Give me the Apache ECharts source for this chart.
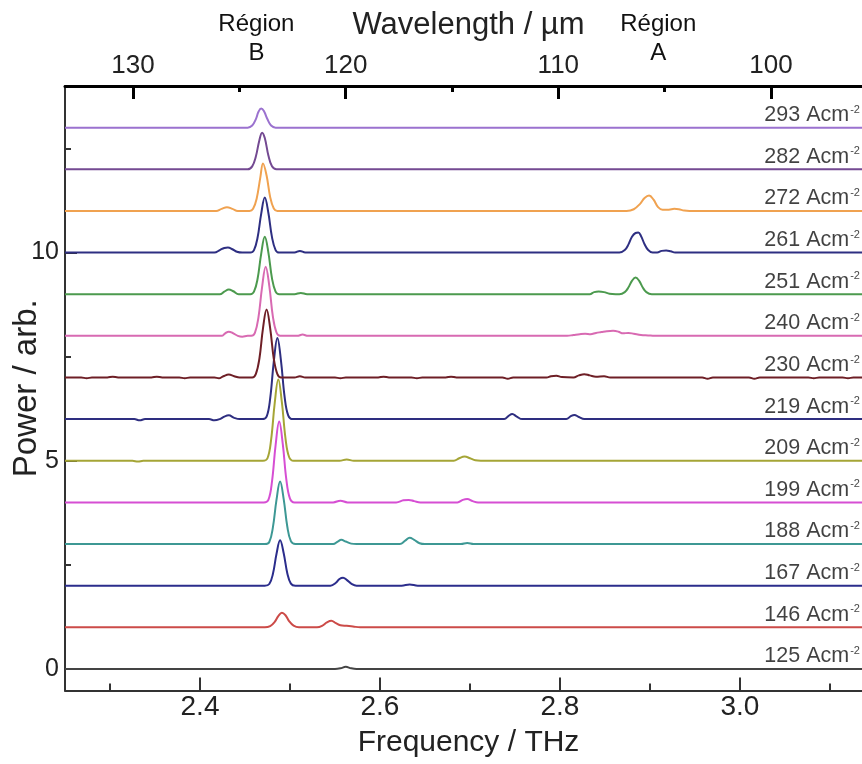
<!DOCTYPE html>
<html>
<head>
<meta charset="utf-8">
<script src="https://cdn.jsdelivr.net/npm/echarts@6/dist/echarts.min.js"></script>
<style>
html,body{margin:0;padding:0;background:#fff;}
#chart{width:862px;height:764px;}
</style>
</head>
<body>
<div id="chart"></div>
<script>
// ---- data ----
const currents = [125, 146, 167, 188, 199, 209, 219, 230, 240, 251, 261, 272, 282, 293];
const offsets  = [0, 1, 2, 3, 4, 5, 6, 7, 8, 9, 10, 11, 12, 13];

const freqMajor = [2.4, 2.6, 2.8, 3.0];
const freqMinor = [2.3, 2.5, 2.7, 2.9, 3.1];
const lamMajor  = [130, 120, 110, 100];
const lamMinor  = [125, 115, 105];
const powMajor  = [0, 5, 10];
const powMinor  = [2.5, 7.5, 12.5];

const regionNames = ['Région\nB', 'Région\nA'];
const regionLam   = [124.2, 105.3];

// spectra: [frequency THz, power above its own baseline]
const spec125 = [[2.25,0],[2.55,0],[2.556,0.015],[2.562,0.05],[2.568,0.015],[2.574,0],[3.14,0]];
const spec146 = [[2.25,0],[2.472,0],[2.478,0.03],[2.483,0.13],[2.487,0.27],[2.491,0.35],[2.495,0.29],[2.499,0.15],[2.504,0.04],[2.51,0],[2.53,0],[2.536,0.04],[2.541,0.12],[2.546,0.16],[2.551,0.1],[2.556,0.05],[2.563,0.035],[2.57,0.02],[2.578,0],[3.14,0]];
const spec167 = [[2.25,0],[2.472,0],[2.477,0.04],[2.481,0.28],[2.485,0.76],[2.489,1.09],[2.493,0.78],[2.497,0.3],[2.501,0.05],[2.506,0],[2.545,0],[2.551,0.07],[2.555,0.16],[2.559,0.19],[2.563,0.14],[2.568,0.05],[2.574,0],[2.624,0],[2.633,0.03],[2.642,0],[3.14,0]];
const spec188 = [[2.25,0],[2.472,0],[2.477,0.05],[2.481,0.4],[2.485,1.06],[2.489,1.5],[2.493,1.08],[2.497,0.42],[2.501,0.07],[2.506,0],[2.548,0],[2.553,0.06],[2.557,0.1],[2.562,0.06],[2.568,0.01],[2.574,0],[2.622,0],[2.628,0.08],[2.633,0.15],[2.638,0.1],[2.644,0.02],[2.65,0],[2.69,0],[2.697,0.025],[2.704,0],[3.14,0]];
const spec199 = [[2.25,0],[2.471,0],[2.476,0.06],[2.48,0.5],[2.484,1.37],[2.488,1.94],[2.492,1.4],[2.496,0.54],[2.5,0.09],[2.505,0],[2.548,0],[2.556,0.04],[2.564,0],[2.618,0],[2.626,0.05],[2.632,0.06],[2.638,0.03],[2.645,0],[2.686,0],[2.692,0.06],[2.697,0.08],[2.703,0.03],[2.709,0],[3.14,0]];
const spec209 = [[2.25,0],[2.325,0],[2.331,-0.02],[2.337,0],[2.47,0],[2.475,0.06],[2.479,0.5],[2.483,1.38],[2.487,1.95],[2.491,1.4],[2.495,0.54],[2.499,0.09],[2.504,0],[2.555,0],[2.563,0.03],[2.571,0],[2.682,0],[2.688,0.06],[2.694,0.1],[2.7,0.06],[2.706,0.01],[2.712,0],[3.14,0]];
const spec219 = [[2.25,0],[2.327,0],[2.333,-0.03],[2.339,0],[2.41,0],[2.416,-0.03],[2.422,0],[2.427,0.06],[2.432,0.09],[2.438,0.03],[2.444,0],[2.469,0],[2.474,0.06],[2.478,0.5],[2.482,1.38],[2.486,1.95],[2.49,1.4],[2.494,0.54],[2.498,0.09],[2.503,0],[2.738,0],[2.743,0.08],[2.747,0.12],[2.752,0.06],[2.758,0],[2.807,0],[2.812,0.07],[2.816,0.1],[2.821,0.05],[2.827,0],[3.14,0]];
const spec230 = [[2.25,0],[2.268,0],[2.274,-0.02],[2.28,0],[2.297,0],[2.303,0.02],[2.309,0],[2.346,0],[2.352,0.02],[2.358,0],[2.377,0],[2.383,-0.02],[2.389,0],[2.416,0],[2.421,-0.02],[2.426,0.03],[2.432,0.07],[2.438,0.03],[2.444,0],[2.458,0],[2.462,0.08],[2.466,0.45],[2.47,1.18],[2.474,1.63],[2.478,1.18],[2.482,0.45],[2.486,0.08],[2.49,0],[2.505,0],[2.511,0.03],[2.517,0],[2.55,0],[2.556,-0.02],[2.562,0],[2.598,0],[2.604,0.02],[2.61,0],[2.635,0],[2.641,-0.02],[2.647,0],[2.673,0],[2.679,0.02],[2.685,0],[2.736,0],[2.742,-0.03],[2.748,0],[2.785,0],[2.79,0.03],[2.796,0.04],[2.802,0.01],[2.815,0],[2.821,0.05],[2.827,0.08],[2.833,0.05],[2.84,0.02],[2.849,0.03],[2.856,0],[2.958,0],[2.964,-0.03],[2.97,0],[3.01,0],[3.016,-0.03],[3.022,0],[3.076,0],[3.082,-0.02],[3.088,0],[3.114,0],[3.12,-0.02],[3.126,0],[3.14,0]];
const spec240 = [[2.25,0],[2.424,0],[2.428,0.06],[2.432,0.1],[2.437,0.06],[2.442,0],[2.447,-0.02],[2.453,0],[2.457,0],[2.461,0.07],[2.465,0.45],[2.469,1.17],[2.473,1.66],[2.477,1.2],[2.481,0.46],[2.485,0.08],[2.489,0],[2.508,0],[2.514,0.03],[2.52,0],[2.808,0],[2.815,0.02],[2.822,0.04],[2.828,0.05],[2.834,0.04],[2.84,0.07],[2.846,0.09],[2.852,0.11],[2.859,0.12],[2.865,0.1],[2.87,0.06],[2.876,0.07],[2.882,0.05],[2.89,0.02],[2.898,0.01],[2.905,0],[3.14,0]];
const spec251 = [[2.25,0],[2.422,0],[2.427,0.06],[2.432,0.11],[2.437,0.07],[2.443,0],[2.456,0],[2.46,0.06],[2.464,0.37],[2.468,0.97],[2.472,1.38],[2.476,1.0],[2.48,0.38],[2.484,0.06],[2.488,0],[2.505,0],[2.512,0.03],[2.519,0],[2.833,0],[2.838,0.05],[2.843,0.065],[2.849,0.05],[2.855,0.01],[2.862,0],[2.866,0],[2.872,0.05],[2.876,0.16],[2.88,0.32],[2.884,0.4],[2.888,0.32],[2.892,0.16],[2.896,0.05],[2.902,0],[3.14,0]];
const spec261 = [[2.25,0],[2.416,0],[2.422,0.06],[2.427,0.11],[2.431,0.12],[2.436,0.08],[2.441,0.02],[2.447,0],[2.456,0],[2.46,0.06],[2.464,0.36],[2.468,0.93],[2.472,1.32],[2.476,0.95],[2.48,0.37],[2.484,0.06],[2.488,0],[2.505,0],[2.511,0.04],[2.517,0],[2.866,0],[2.872,0.06],[2.876,0.19],[2.88,0.38],[2.884,0.47],[2.887,0.48],[2.89,0.4],[2.894,0.2],[2.898,0.06],[2.903,0],[2.908,0],[2.913,0.04],[2.918,0.05],[2.923,0.03],[2.928,0],[3.14,0]];
const spec272 = [[2.25,0],[2.418,0],[2.424,0.05],[2.43,0.09],[2.436,0.05],[2.442,0],[2.455,0],[2.459,0.05],[2.463,0.3],[2.467,0.8],[2.47,1.14],[2.474,0.85],[2.478,0.33],[2.482,0.06],[2.486,0],[2.874,0],[2.882,0.04],[2.889,0.17],[2.894,0.31],[2.899,0.37],[2.904,0.27],[2.909,0.09],[2.914,0.03],[2.921,0.03],[2.927,0.05],[2.932,0.04],[2.938,0.01],[2.944,0],[3.14,0]];
const spec282 = [[2.25,0],[2.453,0],[2.458,0.07],[2.462,0.3],[2.466,0.7],[2.469,0.88],[2.472,0.75],[2.476,0.33],[2.48,0.07],[2.485,0],[3.14,0]];
const spec293 = [[2.25,0],[2.453,0],[2.458,0.05],[2.462,0.2],[2.465,0.38],[2.468,0.46],[2.471,0.4],[2.475,0.2],[2.479,0.05],[2.484,0],[3.14,0]];

const spectra = [spec125, spec146, spec167, spec188, spec199, spec209, spec219, spec230, spec240, spec251, spec261, spec272, spec282, spec293];

// ---- styles ----
const colors = ['#444444', '#cc4b48', '#2b2d8c', '#3d9894', '#d64fd3', '#a5a536', '#2e2e80', '#6e1f26',
                '#d86ab2', '#4c9a4e', '#2e2f82', '#f0a250', '#744a92', '#9b72cf'];
const FONT = 'Liberation Sans, Arial, sans-serif';
const fMin = 2.25, fMax = 3.1356;
const lamLeft = 133.2, lamRight = 95.72;
const pMin = -0.52, pMax = 14;
const labelF = 3.1333;

const chart = echarts.init(document.getElementById('chart'), null, {renderer: 'canvas'});

const gridRect = {left: 65, top: 86, width: 797, height: 604.6};

const lineSeries = spectra.map((s, i) => ({
  type: 'line',
  xAxisIndex: 0, yAxisIndex: 0,
  data: s.map(p => [p[0], p[1] + offsets[i]]),
  smooth: 0.4,
  showSymbol: false,
  symbol: 'none',
  clip: true,
  lineStyle: {color: colors[i], width: 2},
  silent: true,
  z: 2
}));

const labelSeries = {
  type: 'scatter',
  xAxisIndex: 0, yAxisIndex: 0,
  symbolSize: 1,
  itemStyle: {color: 'transparent'},
  silent: true,
  z: 5,
  data: currents.map((c, i) => [labelF, offsets[i], c]),
  label: {
    show: true,
    position: 'top',
    align: 'right',
    distance: 1,
    formatter: p => '{a|' + p.value[2] + ' Acm}{s|-2}',
    rich: {
      a: {fontSize: 21.5, fontFamily: FONT, color: '#111', lineHeight: 22, padding: [6, 0, 0, 0], verticalAlign: 'bottom'},
      s: {fontSize: 11, fontFamily: FONT, color: '#111', lineHeight: 12, verticalAlign: 'top', padding: [0, 0, 0, 1]}
    }
  }
};

const option = {
  animation: false,
  backgroundColor: '#fff',
  grid: [
    Object.assign({containLabel: false, outerBoundsMode: 'none'}, gridRect),
    Object.assign({containLabel: false, outerBoundsMode: 'none'}, gridRect)
  ],
  xAxis: [
    { // bottom frequency, major
      type: 'value', gridIndex: 0, position: 'bottom', min: fMin, max: fMax,
      axisLine: {show: true, onZero: false, lineStyle: {color: '#333', width: 2}},
      axisTick: {show: true, inside: true, length: 13, customValues: freqMajor, lineStyle: {color: '#333', width: 2}},
      axisLabel: {show: true, customValues: freqMajor, formatter: v => v.toFixed(1), fontSize: 28, fontFamily: FONT, color: '#222', margin: 3},
      splitLine: {show: false},
      name: 'Frequency / THz', nameLocation: 'middle', nameGap: 37, nameMoveOverlap: false,
      nameTextStyle: {fontSize: 30, fontFamily: FONT, color: '#222', padding: [0, 0, 0, 10]}
    },
    { // top wavelength, major
      type: 'value', gridIndex: 0, position: 'top', inverse: true, min: lamRight, max: lamLeft,
      axisLine: {show: true, onZero: false, lineStyle: {color: '#000', width: 3}},
      axisTick: {show: true, inside: true, length: 13, customValues: lamMajor, lineStyle: {color: '#000', width: 3}},
      axisLabel: {show: true, customValues: lamMajor, fontSize: 26, fontFamily: FONT, color: '#222', margin: 7},
      splitLine: {show: false},
      name: 'Wavelength / µm', nameLocation: 'middle', nameGap: 45, nameMoveOverlap: false,
      nameTextStyle: {fontSize: 31, fontFamily: FONT, color: '#222', padding: [0, 0, 0, 10]}
    },
    { // bottom frequency, minor ticks
      type: 'value', gridIndex: 1, position: 'bottom', min: fMin, max: fMax,
      axisLine: {show: false, onZero: false},
      axisTick: {show: true, inside: true, length: 7, customValues: freqMinor, lineStyle: {color: '#333', width: 2}},
      axisLabel: {show: false}, splitLine: {show: false}
    },
    { // top wavelength, minor ticks
      type: 'value', gridIndex: 1, position: 'top', inverse: true, min: lamRight, max: lamLeft,
      axisLine: {show: false, onZero: false},
      axisTick: {show: true, inside: true, length: 6, customValues: lamMinor, lineStyle: {color: '#000', width: 3}},
      axisLabel: {show: false}, splitLine: {show: false}
    }
  ],
  yAxis: [
    {
      type: 'value', gridIndex: 0, position: 'left', min: pMin, max: pMax,
      axisLine: {show: true, onZero: false, lineStyle: {color: '#333', width: 2}},
      axisTick: {show: true, inside: true, length: 12, customValues: powMajor, lineStyle: {color: '#333', width: 2}},
      axisLabel: {show: true, customValues: powMajor, fontSize: 25, fontFamily: FONT, color: '#222', margin: 6},
      splitLine: {show: false},
      name: 'Power / arb.', nameLocation: 'middle', nameGap: 22, nameRotate: 90, nameMoveOverlap: false,
      nameTextStyle: {fontSize: 33, fontFamily: FONT, color: '#222'}
    },
    {
      type: 'value', gridIndex: 1, position: 'left', min: pMin, max: pMax,
      axisLine: {show: false, onZero: false},
      axisTick: {show: true, inside: true, length: 6, customValues: powMinor, lineStyle: {color: '#333', width: 2}},
      axisLabel: {show: false}, splitLine: {show: false}
    }
  ],
  series: lineSeries.concat([labelSeries])
};

chart.setOption(option);

// region annotations placed via the wavelength axis
const graphics = regionNames.map((t, i) => ({
  type: 'text',
  x: chart.convertToPixel({xAxisIndex: 1}, regionLam[i]),
  y: 38.5,
  silent: true,
  style: {
    text: t,
    textAlign: 'center',
    textVerticalAlign: 'middle',
    fontSize: 24,
    fontFamily: FONT,
    lineHeight: 29,
    fill: '#111'
  }
}));
chart.setOption({graphic: graphics});
</script>
</body>
</html>
